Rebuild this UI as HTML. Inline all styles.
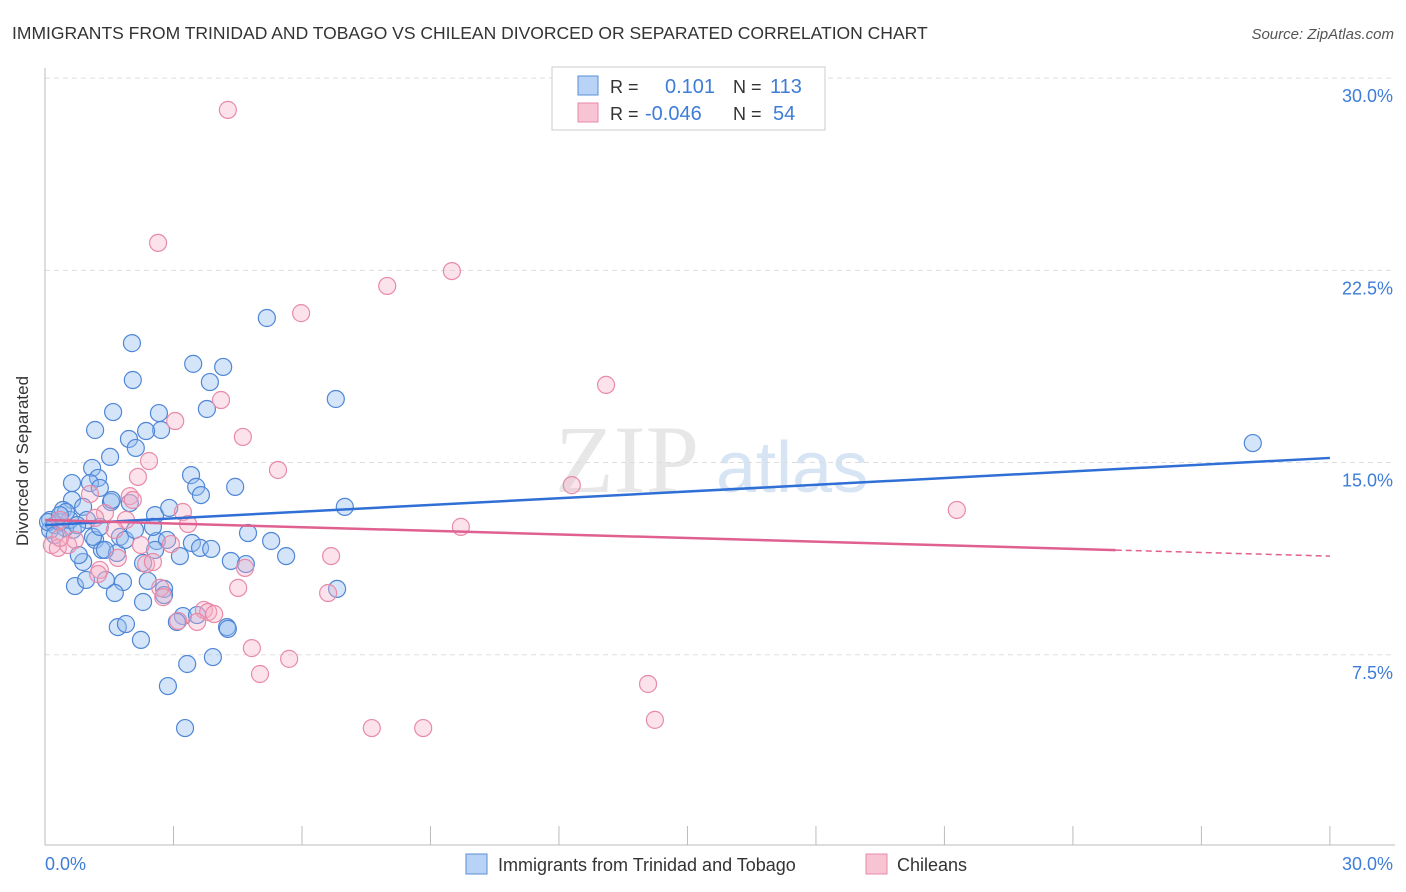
<!DOCTYPE html>
<html><head><meta charset="utf-8"><style>
body{margin:0;background:#fff;font-family:"Liberation Sans",sans-serif;}
svg{display:block}
</style></head><body>
<svg id="chart" width="1406" height="892">
<text x="12" y="39" font-size="17.5" fill="#333">IMMIGRANTS FROM TRINIDAD AND TOBAGO VS CHILEAN DIVORCED OR SEPARATED CORRELATION CHART</text>
<text x="1394" y="39" font-size="15" fill="#555" font-style="italic" text-anchor="end">Source: ZipAtlas.com</text>
<g><text x="555" y="492" font-size="96" fill="#d8d8d8" font-family="Liberation Serif,serif" opacity="0.6">ZIP</text><text x="716" y="492" font-size="72" fill="#bcd3ee" opacity="0.6">atlas</text></g>
<g id="grid"></g>
<g id="axes"></g>
<g id="pts"></g>
<g id="trend"></g>
<text x="22" y="455" font-size="17" fill="#333" text-anchor="middle" transform="rotate(-90 28 455)">Divorced or Separated</text>
<text x="45" y="870" font-size="18" fill="#3d7dd8">0.0%</text>
<text x="1393" y="870" font-size="18" fill="#3d7dd8" text-anchor="end">30.0%</text>
<g>
<rect x="552" y="67" width="273" height="63" fill="#fff" stroke="#ccc"/>
<rect x="578" y="76" width="20" height="19" fill="#b8d3f5" stroke="#5a8fd8"/>
<rect x="578" y="103" width="20" height="19" fill="#f8c4d4" stroke="#e88aa8"/>
<text x="610" y="93" font-size="18" fill="#333">R =</text><text x="665" y="93" font-size="20" fill="#3d7dd8">0.101</text>
<text x="733" y="93" font-size="18" fill="#333">N =</text><text x="770" y="93" font-size="20" fill="#3d7dd8">113</text>
<text x="610" y="120" font-size="18" fill="#333">R =</text><text x="645" y="120" font-size="20" fill="#3d7dd8">-0.046</text>
<text x="733" y="120" font-size="18" fill="#333">N =</text><text x="773" y="120" font-size="20" fill="#3d7dd8">54</text>
</g>
<g>
<rect x="466" y="854" width="21" height="20" fill="#b8d3f5" stroke="#5a8fd8"/>
<text x="498" y="871" font-size="18" fill="#333">Immigrants from Trinidad and Tobago</text>
<rect x="866" y="854" width="21" height="20" fill="#f8c4d4" stroke="#e88aa8"/>
<text x="897" y="871" font-size="18" fill="#333">Chileans</text>
</g>
</svg>
<script>
const blueX=[2.03,2.05,3.46,4.16,3.85,3.78,6.79,1.59,1.17,2.66,2.71,2.36,1.96,2.12,1.52,1.10,1.24,0.63,1.05,1.28,3.41,3.53,3.64,4.44,7.00,1.54,1.98,0.63,2.57,2.90,4.74,5.28,5.63,4.34,4.69,3.43,3.62,3.88,3.15,2.61,2.85,2.57,1.17,1.33,1.68,2.29,0.89,0.79,0.70,0.96,1.42,1.82,1.63,2.40,2.29,2.78,2.78,3.22,3.55,3.08,4.25,4.27,1.70,1.89,2.24,3.32,3.92,2.87,3.27,6.82,5.18,28.20,0.12,0.42,0.89,0.98,1.56,1.12,1.75,0.65,1.40,1.87,2.52,0.12,0.23,0.35,0.07,0.47,0.58,0.23,0.75,0.49,1.28,2.10,0.35];
const blueY=[19.66,18.22,18.85,18.73,18.14,17.09,17.48,16.97,16.27,16.93,16.27,16.23,15.92,15.57,15.22,14.79,14.40,14.20,14.20,14.01,14.51,14.05,13.73,14.05,13.27,13.46,13.42,13.54,12.95,13.23,12.25,11.94,11.35,11.16,11.04,11.86,11.67,11.63,11.35,11.94,11.98,11.59,11.98,11.59,11.47,11.08,11.12,11.39,10.18,10.42,10.42,10.34,9.91,10.38,9.56,10.07,9.83,9.01,9.05,8.78,8.58,8.51,8.58,8.70,8.08,7.14,7.41,6.28,4.64,10.07,20.64,15.76,12.76,13.15,13.27,12.76,13.54,12.10,12.10,12.37,11.59,11.98,12.49,12.37,12.56,12.68,12.68,12.45,12.76,12.17,12.56,13.07,12.49,12.37,12.95];
const pinkX=[4.27,2.64,9.50,7.99,5.98,13.10,4.11,3.04,4.62,2.43,5.44,12.30,21.29,9.71,2.17,1.98,1.05,2.05,1.89,3.22,3.34,1.40,1.63,1.17,0.35,0.16,0.30,0.54,0.70,0.35,1.28,1.24,1.70,2.24,2.94,2.36,2.52,2.69,4.67,4.51,6.68,6.61,2.76,3.71,3.81,3.11,3.55,3.95,4.83,5.70,5.02,14.08,14.24,7.63,8.83];
const pinkY=[28.76,23.57,22.47,21.89,20.83,18.03,17.44,16.62,16.00,15.06,14.71,14.12,13.15,12.49,14.44,13.69,13.77,13.54,12.76,13.07,12.60,13.03,12.37,12.84,12.76,11.78,11.67,11.78,11.98,12.06,10.81,10.65,11.28,11.78,11.82,11.04,11.12,10.11,10.89,10.11,11.35,9.91,9.75,9.25,9.17,8.82,8.78,9.09,7.76,7.34,6.75,6.36,4.96,4.64,4.64];
const yTicks=[7.5,15,22.5,30];
const yTickLabels=["7.5%","15.0%","22.5%","30.0%"];
const xTicks=[0,3,6,9,12,15,18,21,24,27,30];
const blueTrend=[12.56,15.18];
const pinkTrend=[12.76,11.35];
const pinkSolidEnd=25;

const NS="http://www.w3.org/2000/svg";
const sx=v=>45+v*42.83, sy=v=>847-v*25.63;
function mk(tag,attrs,parent){const e=document.createElementNS(NS,tag);for(const k in attrs)e.setAttribute(k,attrs[k]);document.getElementById(parent).appendChild(e);return e;}
yTicks.forEach((t,i)=>{
  const g=mk('line',{x1:45,x2:1395,y1:sy(t),y2:sy(t),stroke:'#ddd','stroke-dasharray':'5 4'},'grid');
  
  
  const l=mk('text',{x:1393,y:sy(t)+24,'font-size':18,fill:'#3d7dd8','text-anchor':'end'},'grid');
  l.textContent=yTickLabels[i];
  
  
});
const ax=mk('line',{x1:45,x2:1395,y1:845,y2:845,stroke:'#bbb'},'axes');


const ay=mk('line',{x1:45,x2:45,y1:68,y2:845,stroke:'#bbb'},'axes');


xTicks.forEach(t=>{
  const e=mk('line',{x1:sx(t),x2:sx(t),y1:826,y2:845,stroke:'#bbb'},'axes');
  
  
});
blueX.forEach((x,i)=>{
  const c=mk('circle',{cx:sx(x),cy:sy(blueY[i]),r:8.5,fill:'rgba(150,190,240,0.4)',stroke:'#4f86d6','stroke-width':1.2},'pts');
  
  
});
pinkX.forEach((x,i)=>{
  const c=mk('circle',{cx:sx(x),cy:sy(pinkY[i]),r:8.5,fill:'rgba(245,175,198,0.35)',stroke:'#e88aa8','stroke-width':1.2},'pts');
  
  
});
const bt=mk('line',{x1:sx(0),y1:sy(blueTrend[0]),x2:sx(30),y2:sy(blueTrend[1]),stroke:'#2f6fd6','stroke-width':2.5},'trend');


const pAt=x=>pinkTrend[0]+(pinkTrend[1]-pinkTrend[0])*x/30;
const pt=mk('line',{x1:sx(0),y1:sy(pinkTrend[0]),x2:sx(pinkSolidEnd),y2:sy(pAt(pinkSolidEnd)),stroke:'#e0608f','stroke-width':2.5},'trend');


const pd=mk('line',{x1:sx(pinkSolidEnd),y1:sy(pAt(pinkSolidEnd)),x2:sx(30),y2:sy(pinkTrend[1]),stroke:'#e0608f','stroke-width':1.5,'stroke-dasharray':'6 4'},'trend');


</script>
</body></html>
